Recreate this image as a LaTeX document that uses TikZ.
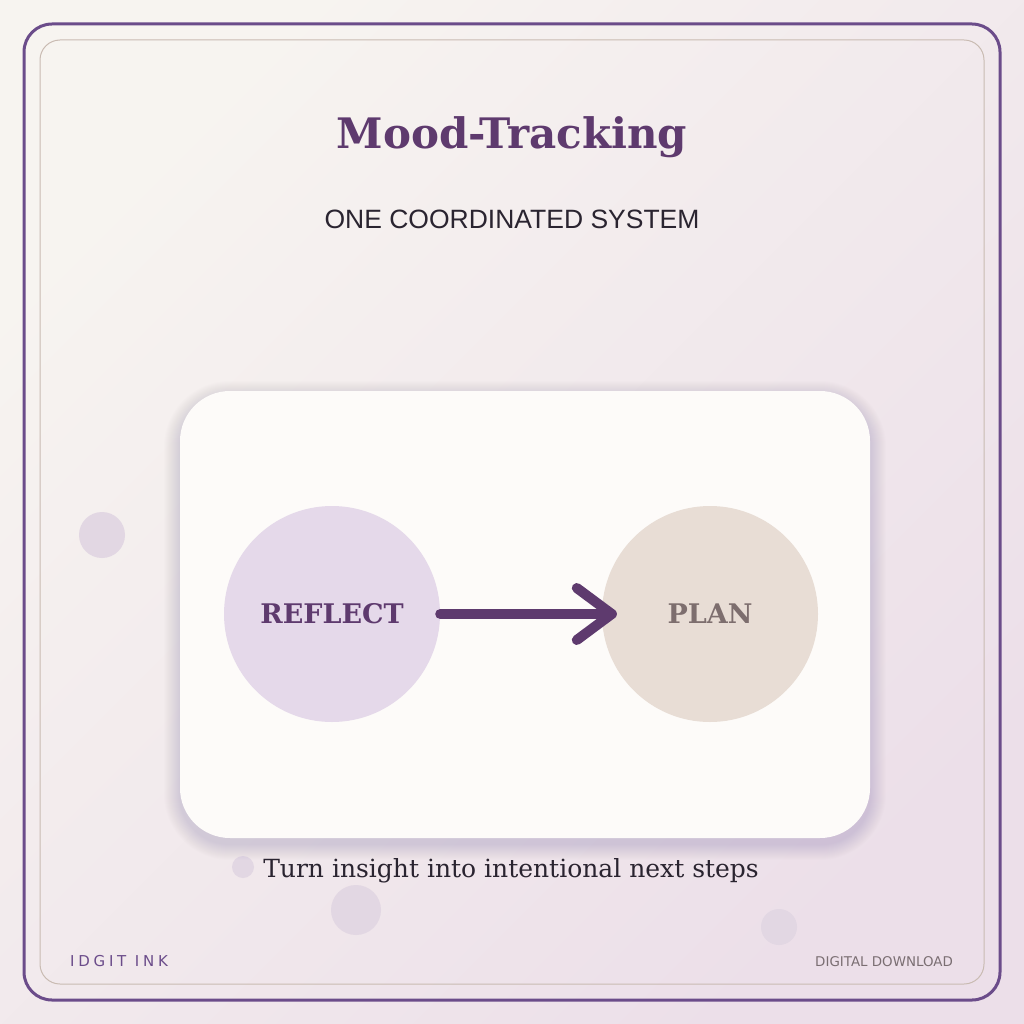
\documentclass[tikz,border=0pt]{standalone}
\usepackage{fontspec}
\setmainfont{DejaVu Serif}
\newfontfamily\subfont{Liberation Sans}
\newfontfamily\dvsans{DejaVu Sans}
\usetikzlibrary{calc}
\definecolor{bgA}{HTML}{F7F4F0}
\definecolor{bgB}{HTML}{ECDFE9}
\definecolor{plum}{HTML}{5E3A6E}
\definecolor{frame}{HTML}{6B4C8A}
\definecolor{innerframe}{HTML}{C9BBB2}
\definecolor{cardfill}{HTML}{FDFBF9}
\definecolor{lilac}{HTML}{E5D9EA}
\definecolor{sand}{HTML}{E8DDD5}
\definecolor{taupe}{HTML}{7D6E6E}
\definecolor{ink}{HTML}{2A2430}
\definecolor{dot}{HTML}{E2D7E3}
\definecolor{greytext}{HTML}{7A6E72}
\definecolor{shadowc}{HTML}{7A5A8E}
\tikzset{
  stepcircle/.style={circle, minimum size=216pt, inner sep=0pt, font=\fontsize{27}{30}\selectfont\bfseries},
  deco/.style={fill=dot},
  link/.style={draw=plum, line width=10pt, line cap=round, line join=round},
}
\begin{document}
\begin{tikzpicture}[x=1pt,y=-1pt]
\useasboundingbox (0,0) rectangle (1024,1024);
\shade[shading=axis, top color=bgA, bottom color=bgB, shading angle=45] (0,0) rectangle (1024,1024);
% frames
\draw[frame, line width=3pt, rounded corners=28pt] (24,24) rectangle (1000,1000);
\draw[innerframe, line width=1pt, rounded corners=20pt] (40,40) rectangle (984,984);
% decorative dots
\fill[deco] (102,535) circle (23);
\fill[deco] (243,867) circle (11);
\fill[deco] (356,910) circle (25);
\fill[deco] (779,927) circle (18);
% title
\node[text=plum, font=\fontsize{42}{46}\selectfont\bfseries] (title) at (512,137) {Mood-Tracking};
\node[text=ink, font=\subfont\fontsize{26.5}{30}\selectfont] (sub) at (512,219) {ONE COORDINATED SYSTEM};
% card shadow
\foreach \i in {1,...,16}{
  \fill[shadowc, opacity=0.012, rounded corners={50pt+\i pt}] (180-\i,391-\i+6) rectangle (870+\i,838+\i+6);
}
% card
\fill[cardfill, rounded corners=50pt] (180,391) rectangle (870,838);
\node[stepcircle, fill=lilac, text=plum] (r) at (332,614) {REFLECT};
\node[stepcircle, fill=sand, text=taupe] (p) at (710,614) {PLAN};
\coordinate (tip) at ($(p.west)+(10,0)$);
\draw[link] (r.east) -- (tip);
\draw[link] ($(tip)+(-35,-26)$) -- (tip) -- ($(tip)+(-35,26)$);
% caption
\node[text=ink, font=\fontsize{25}{28}\selectfont] (cap) at (511,871) {Turn insight into intentional next steps};
% footer
\node[anchor=west, text=frame, font=\dvsans\addfontfeatures{LetterSpace=25}\fontsize{15}{17}\selectfont, inner sep=0pt] (brand) at (70,961) {IDGIT INK};
\node[anchor=east, text=greytext, font=\dvsans\fontsize{13.4}{15}\selectfont, inner sep=0pt] (dl) at (953,962) {DIGITAL DOWNLOAD};
\end{tikzpicture}
\end{document}
